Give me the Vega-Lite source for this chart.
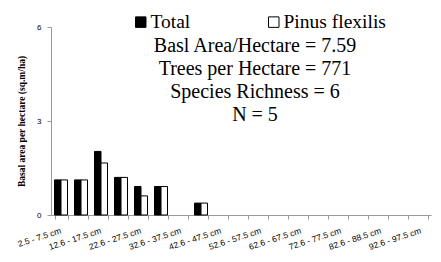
{
  "$schema": "https://vega.github.io/schema/vega-lite/v6.json",
  "width": 380,
  "height": 188,
  "autosize": "none",
  "padding": {"left": 51, "top": 27, "right": 10, "bottom": 47},
  "background": "white",
  "config": {"view": {"stroke": null}},
  "title": {
    "text": ["Basl Area/Hectare = 7.59", "Trees per Hectare =  771", "Species Richness = 6", "N = 5"],
    "font": "Liberation Serif",
    "fontSize": 20,
    "fontWeight": "normal",
    "color": "black",
    "anchor": "middle",
    "frame": "group",
    "orient": "top",
    "baseline": "top",
    "offset": 0,
    "dx": 14,
    "dy": 112.5,
    "lineHeight": 23
  },
  "data": {
    "values": [
      {"size_class": "2.5 - 7.5 cm", "series": "Total", "basal_area": 1.12},
      {"size_class": "2.5 - 7.5 cm", "series": "Pinus flexilis", "basal_area": 1.12},
      {"size_class": "7.6 - 12.5 cm", "series": "Total", "basal_area": 1.12},
      {"size_class": "7.6 - 12.5 cm", "series": "Pinus flexilis", "basal_area": 1.12},
      {"size_class": "12.6 - 17.5 cm", "series": "Total", "basal_area": 2.03},
      {"size_class": "12.6 - 17.5 cm", "series": "Pinus flexilis", "basal_area": 1.66},
      {"size_class": "17.6 - 22.5 cm", "series": "Total", "basal_area": 1.2},
      {"size_class": "17.6 - 22.5 cm", "series": "Pinus flexilis", "basal_area": 1.2},
      {"size_class": "22.6 - 27.5 cm", "series": "Total", "basal_area": 0.91},
      {"size_class": "22.6 - 27.5 cm", "series": "Pinus flexilis", "basal_area": 0.61},
      {"size_class": "27.6 - 32.5 cm", "series": "Total", "basal_area": 0.91},
      {"size_class": "27.6 - 32.5 cm", "series": "Pinus flexilis", "basal_area": 0.91},
      {"size_class": "37.6 - 42.5 cm", "series": "Total", "basal_area": 0.38},
      {"size_class": "37.6 - 42.5 cm", "series": "Pinus flexilis", "basal_area": 0.38}
    ]
  },
  "mark": {"type": "bar", "stroke": "black", "strokeWidth": 1},
  "encoding": {
    "x": {
      "field": "size_class",
      "type": "nominal",
      "sort": null,
      "scale": {
        "domain": ["2.5 - 7.5 cm", "7.6 - 12.5 cm", "12.6 - 17.5 cm", "17.6 - 22.5 cm", "22.6 - 27.5 cm", "27.6 - 32.5 cm", "32.6 - 37.5 cm", "37.6 - 42.5 cm", "42.6 - 47.5 cm", "47.6 - 52.5 cm", "52.6 - 57.5 cm", "57.6 - 62.5 cm", "62.6 - 67.5 cm", "67.6 - 72.5 cm", "72.6 - 77.5 cm", "77.6 - 82.5 cm", "82.6 - 88.5 cm", "88.6 - 92.5 cm", "92.6 - 97.5 cm"],
        "paddingInner": 0.35,
        "paddingOuter": 0.175
      },
      "axis": {
        "title": null,
        "labelExpr": "indexof(['2.5 - 7.5 cm', '12.6 - 17.5 cm', '22.6 - 27.5 cm', '32.6 - 37.5 cm', '42.6 - 47.5 cm', '52.6 - 57.5 cm', '62.6 - 67.5 cm', '72.6 - 77.5 cm', '82.6 - 88.5 cm', '92.6 - 97.5 cm'], datum.value) >= 0 ? datum.label : ''",
        "labelAngle": -18,
        "labelAlign": "right",
        "labelBaseline": "top",
        "labelFont": "Liberation Sans",
        "labelFontSize": 8.5,
        "labelColor": "black",
        "labelOverlap": false,
        "labelPadding": 7,
        "labelOffset": -2,
        "tickBand": "extent",
        "tickSize": 4,
        "tickColor": "#999999",
        "domainColor": "#999999",
        "grid": false
      }
    },
    "xOffset": {"field": "series", "type": "nominal", "sort": ["Total", "Pinus flexilis"], "scale": {"paddingInner": 0, "paddingOuter": 0}},
    "y": {
      "field": "basal_area",
      "type": "quantitative",
      "scale": {"domain": [0, 6]},
      "axis": {
        "values": [0, 3, 6],
        "title": "Basal area per hectare (sq.m/ha)",
        "titleFont": "Liberation Serif",
        "titleFontWeight": "bold",
        "titleFontSize": 9.5,
        "titleColor": "black",
        "titlePadding": 10,
        "labelFont": "Liberation Sans",
        "labelFontSize": 8,
        "labelColor": "black",
        "labelPadding": 6,
        "tickSize": 4,
        "tickColor": "#999999",
        "domainColor": "#999999",
        "grid": false
      }
    },
    "fill": {
      "field": "series",
      "type": "nominal",
      "scale": {"domain": ["Total", "Pinus flexilis"], "range": ["black", "white"]},
      "legend": {
        "title": null,
        "orient": "none",
        "legendX": 80,
        "legendY": -15,
        "direction": "horizontal",
        "symbolType": "square",
        "symbolSize": 110,
        "symbolStrokeColor": "black",
        "symbolStrokeWidth": 1,
        "labelFont": "Liberation Serif",
        "labelFontSize": 19.5,
        "labelColor": "black",
        "labelOffset": 0,
        "columnPadding": 73
      }
    }
  }
}
